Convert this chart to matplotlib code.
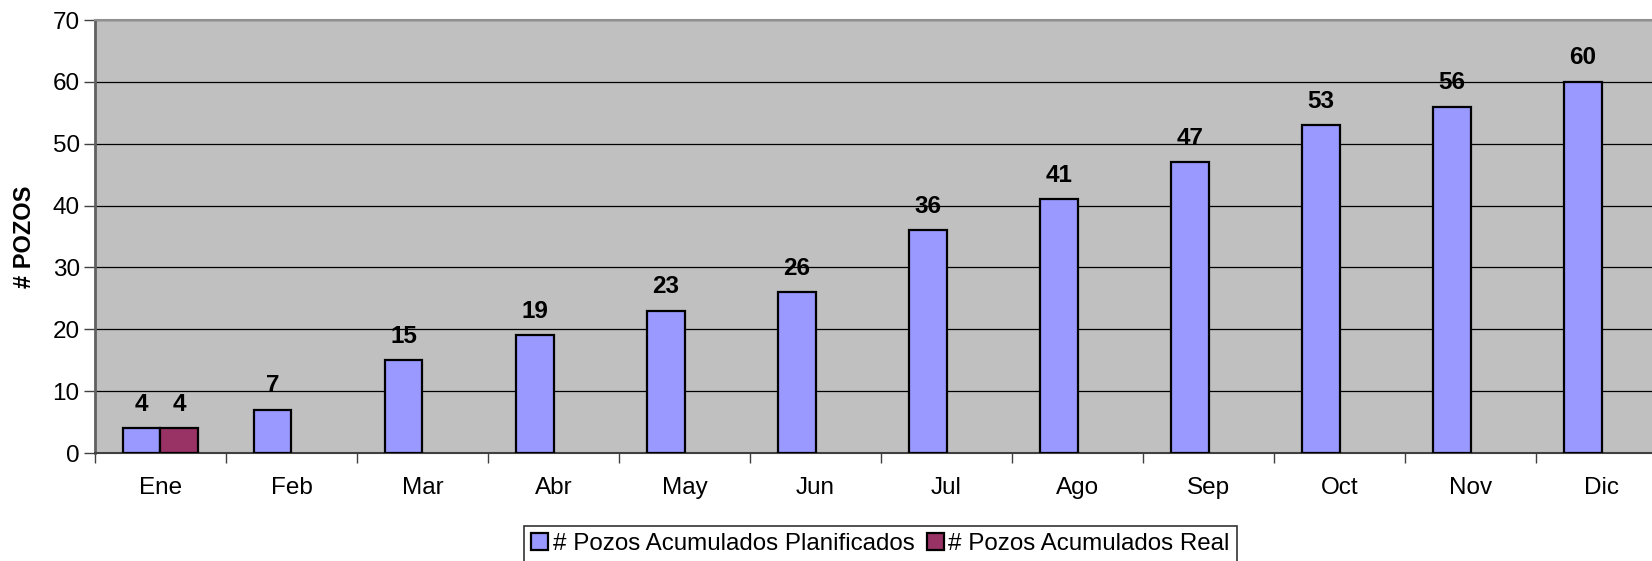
import numpy as np
import matplotlib
matplotlib.use('Agg')
import matplotlib.pyplot as plt

# Data
months = ['Ene', 'Feb', 'Mar', 'Abr', 'May', 'Jun', 'Jul', 'Ago', 'Sep', 'Oct', 'Nov', 'Dic']
planned = [4, 7, 15, 19, 23, 26, 36, 41, 47, 53, 56, 60]
real = [4, None, None, None, None, None, None, None, None, None, None, None]

plt.rcParams['font.family'] = ['Liberation Sans', 'DejaVu Sans']

fig = plt.figure(figsize=(16.52, 5.61), dpi=100)
ax = fig.add_axes([0.0575, 0.1925, 0.9516, 0.7718])
ax.set_facecolor('#C0C0C0')

x = np.arange(len(months))
w = 0.287

bars_p = ax.bar(x - w / 2, planned, width=w, color='#9999FF', edgecolor='black',
                linewidth=1.6, label='# Pozos Acumulados Planificados', zorder=3)
rx = [i for i, v in enumerate(real) if v is not None]
rv = [v for v in real if v is not None]
bars_r = ax.bar(np.array(rx) + w / 2, rv, width=w, color='#993366', edgecolor='black',
                linewidth=1.6, label='# Pozos Acumulados Real', zorder=3)

for bars in (bars_p, bars_r):
    for b in bars:
        ax.annotate(f'{int(b.get_height())}', (b.get_x() + b.get_width() / 2, b.get_height()),
                    xytext=(0, 9), textcoords='offset points', ha='center', va='bottom',
                    fontsize=17.5, fontweight='bold')

ax.set_xlim(-0.5, len(months) - 0.5)
ax.set_ylim(0, 70)
ax.set_yticks(range(0, 71, 10))
ax.yaxis.grid(True, color='black', linewidth=0.9)
ax.set_axisbelow(True)

ax.set_xticks(np.arange(-0.5, len(months), 1))
ax.set_xticklabels([])
ax.set_xticks(x, minor=True)
ax.set_xticklabels(months, minor=True)
ax.tick_params(axis='x', which='major', length=7, color='#404040', width=1)
ax.tick_params(axis='x', which='minor', length=0, pad=17, labelsize=17.5)
ax.tick_params(axis='y', length=8, color='#404040', width=1, pad=3, labelsize=17.5)

ax.spines['left'].set_color('#606060')
ax.spines['left'].set_linewidth(2)
ax.spines['bottom'].set_color('#404040')
ax.spines['bottom'].set_linewidth(1.5)
ax.spines['top'].set_color('#909090')
ax.spines['top'].set_linewidth(1.5)
ax.spines['right'].set_visible(False)

ax.set_ylabel('# POZOS', fontsize=17, fontweight='bold', labelpad=12)

leg = fig.legend(handles=[bars_p, bars_r], loc='upper center', bbox_to_anchor=(0.533, 1 - 526 / 561),
                 ncol=2, fontsize=17.4, frameon=True, fancybox=False, edgecolor='black',
                 handlelength=0.7, handleheight=0.7, handletextpad=0.2, columnspacing=0.5,
                 borderpad=0.3, borderaxespad=0)
leg.get_frame().set_linewidth(1.2)

plt.savefig('out.png', dpi=100)
